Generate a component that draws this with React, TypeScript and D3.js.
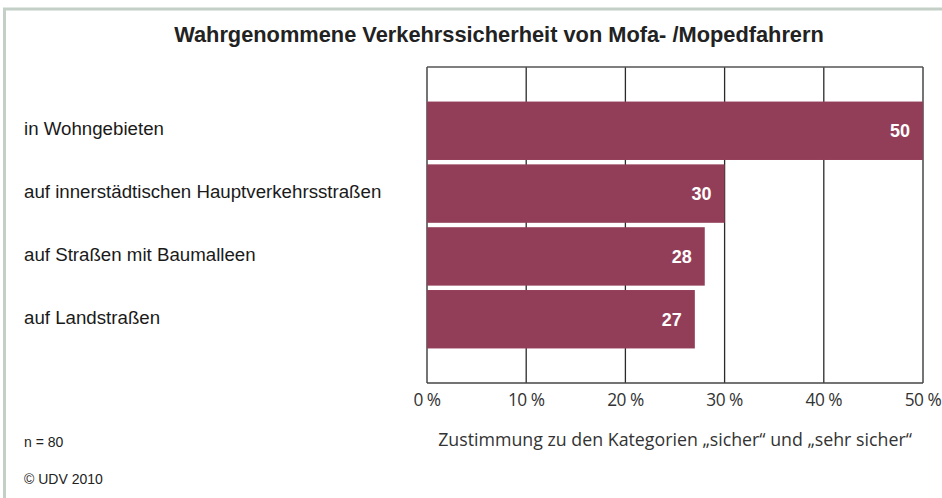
import React from "react";
import * as d3 from "d3";

const title = "Wahrgenommene Verkehrssicherheit von Mofa- /Mopedfahrern";
const categories = [
  "in Wohngebieten",
  "auf innerstädtischen Hauptverkehrsstraßen",
  "auf Straßen mit Baumalleen",
  "auf Landstraßen",
];
const values = [50, 30, 28, 27];
const ticks = [0, 10, 20, 30, 40, 50];
const axisTitle = "Zustimmung zu den Kategorien „sicher“ und „sehr sicher“";
const note = "n = 80";
const source = "© UDV 2010";

const W = 942;
const H = 498;
const left = 427;
const right = 923;
const top = 67;
const bottom = 383;

export default function App() {
  const x = d3.scaleLinear().domain([0, 50]).range([left, right]);
  const y = d3
    .scaleBand<string>()
    .domain(categories)
    .range([top, bottom])
    .paddingInner(0.07)
    .paddingOuter(0.55);
  const font = "Arial, 'Liberation Sans', Helvetica, sans-serif";
  const tickFont = "'Open Sans', 'DejaVu Sans', sans-serif";
  return (
    <svg
      width={W}
      height={H}
      style={{ position: "absolute", left: 0, top: 0, background: "#fff" }}
      fontFamily={font}
    >
      <rect x={0} y={0} width={W} height={H} fill="#fff" />
      <line x1={3} x2={W} y1={9} y2={9} stroke="#c3cfc7" strokeWidth={3} />
      <line x1={4.5} x2={4.5} y1={8} y2={H} stroke="#c3cfc7" strokeWidth={3} />
      <text x={499} y={42} textAnchor="middle" fontSize={21.8} fontWeight="bold" fill="#222">
        {title}
      </text>
      {ticks.map((t) => (
        <line
          key={"g" + t}
          x1={x(t)}
          x2={x(t)}
          y1={top}
          y2={bottom}
          stroke="#2a2a2a"
          strokeWidth={1.3}
        />
      ))}
      <line x1={left} x2={right} y1={top} y2={top} stroke="#555" strokeWidth={1.6} />
      <line x1={left} x2={right} y1={bottom} y2={bottom} stroke="#444" strokeWidth={1.6} />
      {categories.map((c, i) => (
        <g key={c}>
          <rect
            x={x(0)}
            y={y(c)!}
            width={x(values[i]) - x(0)}
            height={y.bandwidth()}
            fill="#933e59"
          />
          <text
            x={x(values[i]) - 13}
            y={y(c)! + y.bandwidth() / 2}
            dy="0.35em"
            textAnchor="end"
            fontSize={18}
            fontWeight="bold"
            fill="#fff"
          >
            {values[i]}
          </text>
          <text
            x={24}
            y={y(c)! + y.bandwidth() / 2 - 2}
            dy="0.35em"
            fontSize={18.7}
            fill="#1a1a1a"
          >
            {c}
          </text>
        </g>
      ))}
      {ticks.map((t) => (
        <text
          key={"t" + t}
          x={x(t)}
          y={406}
          textAnchor="middle"
          fontSize={17.3}
          fill="#333"
          fontFamily={tickFont}
          letterSpacing={-0.5}
        >
          {t} %
        </text>
      ))}
      <text x={675} y={446} textAnchor="middle" fontSize={17.8} fill="#333" fontFamily={tickFont}>
        {axisTitle}
      </text>
      <text x={24} y={447} fontSize={14} fill="#222">
        {note}
      </text>
      <text x={24} y={484} fontSize={14} fill="#222">
        {source}
      </text>
    </svg>
  );
}
